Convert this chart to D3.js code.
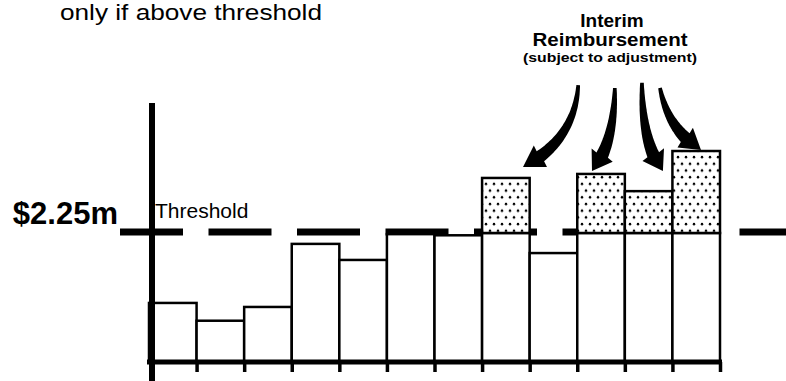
<!DOCTYPE html>
<html><head><meta charset="utf-8">
<script src="https://cdn.jsdelivr.net/npm/d3@7"></script>
<style>
html,body{margin:0;padding:0;background:#fff;}
svg{display:block;}
text{font-family:"Liberation Sans",Arial,sans-serif;fill:#000;}
</style></head>
<body>
<svg id="chart" width="786" height="381"></svg>
<script>
// ---- data ----
const categories = ["1","2","3","4","5","6","7","8","9","10","11","12"];
const values = [1.03, 0.72, 0.96, 2.06, 1.78, 2.23, 2.21, 3.21, 1.90, 3.28, 2.98, 3.68];
const threshold = 2.25;
const thresholdLabel = "$2.25m";
const yMax = 4.5;
// arrows: tail, control, tip in (bar index, value) units
const arrowTails = [[9.02, 4.83], [9.79, 4.78], [10.36, 4.87], [10.74, 4.78]];
const arrowControls = [[8.95, 3.87], [9.77, 3.78], [10.36, 3.78], [10.91, 4.05]];
const arrowTips = [[7.86, 3.40], [9.31, 3.33], [10.80, 3.33], [11.60, 3.70]];

const svg = d3.select("#chart");
const x = d3.scaleBand().domain(categories).range([149, 720]).padding(0);
const xPos = d3.scaleLinear().domain([0, categories.length]).range([149, 720]);
const y = d3.scaleLinear().domain([0, yMax]).range([362, 104]);

// pattern
const defs = svg.append("defs");
const pat = defs.append("pattern").attr("id","dots").attr("patternUnits","userSpaceOnUse")
  .attr("width",8).attr("height",13.4);
pat.append("rect").attr("width",8).attr("height",13.4).attr("fill","#fff");
pat.append("circle").attr("cx",2).attr("cy",3).attr("r",1.25).attr("fill","#000");
pat.append("circle").attr("cx",6).attr("cy",9.7).attr("r",1.25).attr("fill","#000");

// threshold dashed line
svg.append("line")
  .attr("x1",120).attr("x2",786)
  .attr("y1",y(threshold)-1).attr("y2",y(threshold)-1)
  .attr("stroke","#000").attr("stroke-width",7)
  .attr("stroke-dasharray","63 25.5");

// base bars (up to threshold)
svg.append("g").selectAll("rect").data(values).join("rect")
  .attr("x",(d,i)=>x(categories[i]))
  .attr("width",x.bandwidth())
  .attr("y",d=>y(Math.min(d,threshold)))
  .attr("height",d=>y(0)-y(Math.min(d,threshold)))
  .attr("fill","#fff").attr("stroke","#000").attr("stroke-width",2.5);

// excess bars (interim reimbursement)
svg.append("g").selectAll("rect").data(values.map((v,i)=>({v,i})).filter(d=>d.v>threshold)).join("rect")
  .attr("x",d=>x(categories[d.i]))
  .attr("width",x.bandwidth())
  .attr("y",d=>y(d.v))
  .attr("height",d=>y(threshold)-y(d.v))
  .attr("fill","url(#dots)").attr("stroke","#000").attr("stroke-width",2.5);

// x axis
const xAxis = d3.axisBottom(xPos).tickValues(d3.range(1, categories.length+1)).tickSize(10).tickFormat("");
const gx = svg.append("g").attr("transform",`translate(0,${y(0)})`).call(xAxis);
gx.select(".domain").attr("stroke","#000").attr("stroke-width",5).attr("d",`M147,0H722`);
gx.selectAll(".tick line").attr("stroke","#000").attr("stroke-width",3.5);

// y axis
svg.append("line").attr("x1",152).attr("x2",152).attr("y1",y(yMax)-1).attr("y2",381)
  .attr("stroke","#000").attr("stroke-width",6);

// labels
svg.append("text").attr("x",118).attr("y",y(threshold)-9).attr("text-anchor","end")
  .attr("font-size",31).attr("font-weight","bold").text(thresholdLabel);
svg.append("text").attr("x",155).attr("y",y(threshold)-15)
  .attr("font-size",21).text("Threshold");
svg.append("text").attr("x",60).attr("y",20)
  .attr("font-size",22).attr("textLength",262).attr("lengthAdjust","spacingAndGlyphs")
  .text("only if above threshold");
svg.append("text").attr("x",612).attr("y",27).attr("text-anchor","middle")
  .attr("font-size",19).attr("font-weight","bold").text("Interim");
svg.append("text").attr("x",610).attr("y",46).attr("text-anchor","middle")
  .attr("font-size",19).attr("font-weight","bold").attr("textLength",155).attr("lengthAdjust","spacingAndGlyphs")
  .text("Reimbursement");
svg.append("text").attr("x",610).attr("y",62).attr("text-anchor","middle")
  .attr("font-size",13).attr("font-weight","bold").attr("textLength",174).attr("lengthAdjust","spacingAndGlyphs")
  .text("(subject to adjustment)");

// arrows
function arrowPath(p0, p1, p2) {
  const N = 60, pts = [];
  for (let k=0;k<=N;k++){
    const t=k/N, a=(1-t)*(1-t), b=2*(1-t)*t, c=t*t;
    pts.push([a*p0[0]+b*p1[0]+c*p2[0], a*p0[1]+b*p1[1]+c*p2[1]]);
  }
  const cum=[0];
  for (let k=1;k<pts.length;k++) cum.push(cum[k-1]+Math.hypot(pts[k][0]-pts[k-1][0],pts[k][1]-pts[k-1][1]));
  const L = cum[cum.length-1], head = 19, hw = 12.5;
  const left=[], right=[];
  let baseIdx = 0;
  for (let k=0;k<pts.length;k++){
    if (cum[k] > L-head) break;
    baseIdx = k;
    const k0=Math.max(0,k-1), k1=Math.min(pts.length-1,k+1);
    let dx=pts[k1][0]-pts[k0][0], dy=pts[k1][1]-pts[k0][1]; const n=Math.hypot(dx,dy); dx/=n; dy/=n;
    const w = (1.8 + 4.5*(cum[k]/(L-head)));
    left.push([pts[k][0]-dy*w, pts[k][1]+dx*w]);
    right.push([pts[k][0]+dy*w, pts[k][1]-dx*w]);
  }
  const b = pts[baseIdx];
  let dx=p2[0]-b[0], dy=p2[1]-b[1]; const n=Math.hypot(dx,dy); dx/=n; dy/=n;
  const hl=[b[0]-dy*hw, b[1]+dx*hw], hr=[b[0]+dy*hw, b[1]-dx*hw];
  const poly = left.concat([hl, p2, hr]).concat(right.reverse());
  return "M" + poly.map(p=>p[0].toFixed(1)+","+p[1].toFixed(1)).join("L") + "Z";
}
svg.append("g").selectAll("path").data(arrowTails.map((t,i)=>({t, c:arrowControls[i], e:arrowTips[i]}))).join("path")
  .attr("d", d => arrowPath([xPos(d.t[0]), y(d.t[1])], [xPos(d.c[0]), y(d.c[1])], [xPos(d.e[0]), y(d.e[1])]))
  .attr("fill","#000");
</script>
</body></html>
